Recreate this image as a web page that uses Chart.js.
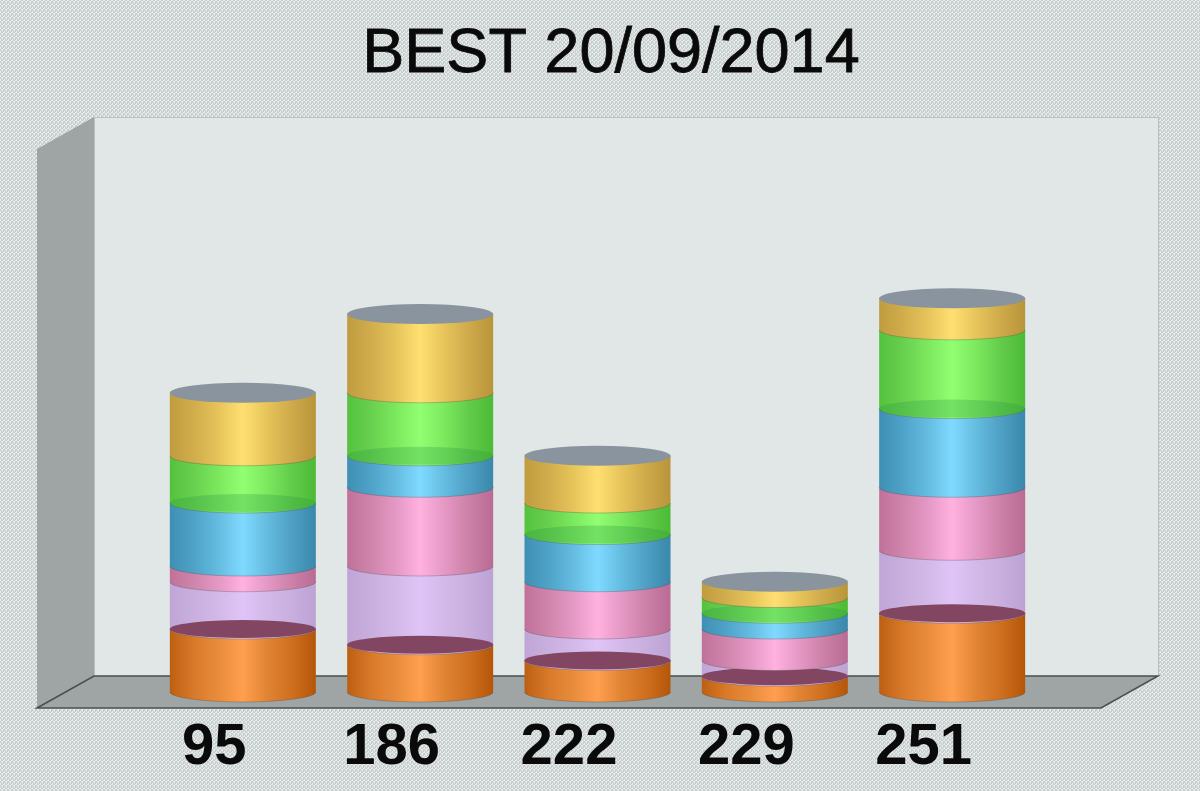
<!DOCTYPE html>
<html>
<head>
<meta charset="utf-8">
<title>BEST 20/09/2014</title>
<script src="https://cdn.jsdelivr.net/npm/chart.js@4"></script>
<style>
  html, body { margin: 0; padding: 0; background: #d6dbdb; }
  canvas { display: block; }
</style>
</head>
<body>
<canvas id="bestChart" width="1200" height="791"></canvas>
<script>
// --- data, one list per stack layer, bottom to top ---
const categories = ["95", "186", "222", "229", "251"];
const orange = [4, 3, 2, 1, 5];
const lavender = [3, 5, 2, 1, 4];
const pink = [1, 5, 3, 2, 4];
const blue = [4, 2, 3, 1, 5];
const green = [3, 4, 2, 1, 5];
const yellow = [4, 5, 3, 1, 2];

// blank slots at both ends so the ticks land where the original has them
const labels = ["", ...categories, ""];
const pad = values => [null, ...values, null];

// the box behind the bars
const DEPTH_X = 57;
const DEPTH_Y = 32;
const RY = 10;
const TITLE_SIZE = 63;

function layer(label, data, color, stops, through) {
  return { label, data: pad(data), backgroundColor: color, stops, through, stack: "s", barThickness: 146 };
}

const datasets = [
  layer("orange", orange, "#ff9f4f", ["#bd5f12", "#d97a2a", "#e88c3c", "#ff9f4f", "#e08434", "#cf6f20", "#b45608"]),
  layer("lavender", lavender, "#dfc3f5", ["#bfa6d6", "#c8afde", "#d2b9e8", "#e0c4f8", "#d2b9e8", "#c8afde", "#bda2d4"], "#834662"),
  layer("pink", pink, "#ffb0e0", ["#c0719a", "#d085ac", "#e498c4", "#ffb1e0", "#e498c4", "#cc81a8", "#b96b94"]),
  layer("blue", blue, "#80d8ff", ["#3f8fb4", "#4fa3c8", "#64bce0", "#80d9ff", "#64bce0", "#4ea0c4", "#3a88ac"]),
  layer("green", green, "#90ff70", ["#54c23e", "#68d04e", "#7ce85e", "#92ff72", "#7ce85e", "#62cc4a", "#4cba36"], "rgba(40,150,70,0.28)"),
  layer("yellow", yellow, "#ffdf70", ["#bf9c3f", "#d1ad4c", "#e6c45a", "#ffdf72", "#e6c45a", "#ceaa4a", "#b8953a"])
];

// the mottled page background, a fixed little weave repeated
function weave(ctx) {
  const rows = ["abba", "baab", "bcab", "abcb"];
  const colors = { a: "#e9ecec", b: "#c6cdcd", c: "#d8dddd" };
  const tile = document.createElement("canvas");
  tile.width = 4;
  tile.height = 4;
  const t = tile.getContext("2d");
  rows.forEach((row, y) => [...row].forEach((c, x) => {
    t.fillStyle = colors[c];
    t.fillRect(x, y, 1, 1);
  }));
  return ctx.createPattern(tile, "repeat");
}

const box3d = {
  id: "box3d",
  beforeDraw(chart) {
    const { ctx, width, height, chartArea: a } = chart;
    ctx.save();
    ctx.fillStyle = weave(ctx);
    ctx.fillRect(0, 0, width, height);

    // back wall
    ctx.fillStyle = "#e1e6e6";
    ctx.fillRect(a.left + DEPTH_X, a.top - DEPTH_Y, a.right - a.left, a.bottom - a.top);
    ctx.strokeStyle = "#b9bfbf";
    ctx.lineWidth = 1;
    ctx.strokeRect(a.left + DEPTH_X + 0.5, a.top - DEPTH_Y + 0.5, a.right - a.left, a.bottom - a.top);

    // side wall
    ctx.fillStyle = "#9fa4a4";
    ctx.beginPath();
    ctx.moveTo(a.left, a.top);
    ctx.lineTo(a.left + DEPTH_X, a.top - DEPTH_Y);
    ctx.lineTo(a.left + DEPTH_X, a.bottom - DEPTH_Y);
    ctx.lineTo(a.left, a.bottom);
    ctx.closePath();
    ctx.fill();

    // floor
    ctx.beginPath();
    ctx.moveTo(a.left, a.bottom);
    ctx.lineTo(a.left + DEPTH_X, a.bottom - DEPTH_Y);
    ctx.lineTo(a.right + DEPTH_X, a.bottom - DEPTH_Y);
    ctx.lineTo(a.right, a.bottom);
    ctx.closePath();
    ctx.fill();
    ctx.strokeStyle = "#4a4e4e";
    ctx.lineWidth = 1.5;
    ctx.stroke();
    ctx.restore();
  },
  // paint the layers bottom up as slices of a cylinder, from the library's own bar elements
  beforeDatasetsDraw(chart) {
    chart.data.datasets.forEach((ds, index) => drawSlices(chart, ds, index));
    return false;
  },
  // the original title is a touch heavier than the installed regular face
  afterDraw(chart) {
    const { ctx, titleBlock: t } = chart;
    ctx.save();
    ctx.font = TITLE_SIZE + "px 'Liberation Sans'";
    ctx.textAlign = "center";
    ctx.textBaseline = "middle";
    ctx.strokeStyle = "#0a0a0a";
    ctx.lineWidth = 0.8;
    ctx.strokeText(t.options.text, (t.left + t.right) / 2, t.top + t.options.padding.top + TITLE_SIZE * 1.2 / 2);
    ctx.restore();
  }
};

function drawSlices(chart, ds, index) {
  const { ctx } = chart;
  const top = index === chart.data.datasets.length - 1;
  chart.getDatasetMeta(index).data.forEach((bar, i) => {
    if (ds.data[i] == null) return;
    const rx = bar.width / 2;
    const cx = bar.x + DEPTH_X / 2;
    const yTop = bar.y - DEPTH_Y / 2;
    const yBase = bar.base - DEPTH_Y / 2;

    const g = ctx.createLinearGradient(cx - rx, 0, cx + rx, 0);
    ds.stops.forEach((c, k) => g.addColorStop(k / (ds.stops.length - 1), c));

    ctx.save();
    ctx.fillStyle = g;
    ctx.beginPath();
    ctx.moveTo(cx - rx, yTop);
    ctx.lineTo(cx + rx, yTop);
    ctx.lineTo(cx + rx, yBase);
    ctx.ellipse(cx, yBase, rx, RY, 0, 0, Math.PI);
    ctx.closePath();
    ctx.fill();

    // what shows through the see-through layers
    if (ds.through) {
      ctx.fillStyle = ds.through;
      ctx.beginPath();
      ctx.ellipse(cx, yBase, rx, RY - 1, 0, 0, 2 * Math.PI);
      ctx.fill();
    }

    // seam along the front of the slice
    ctx.strokeStyle = "rgba(70,70,70,0.3)";
    ctx.lineWidth = 1;
    ctx.beginPath();
    ctx.ellipse(cx, yBase, rx, RY, 0, 0, Math.PI);
    ctx.stroke();

    if (top) {
      ctx.fillStyle = "#8a949e";
      ctx.beginPath();
      ctx.ellipse(cx, yTop, rx, RY, 0, 0, 2 * Math.PI);
      ctx.fill();
    }
    ctx.restore();
  });
}

new Chart(document.getElementById("bestChart"), {
  type: "bar",
  data: { labels, datasets },
  options: {
    responsive: false,
    animation: false,
    layout: { padding: { left: 37, right: 15, top: 0, bottom: 0 } },
    plugins: {
      legend: { display: false },
      tooltip: { enabled: false },
      title: {
        display: true,
        text: "BEST 20/09/2014",
        color: "#0a0a0a",
        font: { family: "'Liberation Sans'", size: TITLE_SIZE, weight: "normal", lineHeight: 1.2 },
        padding: { top: 17, bottom: 56.4 }
      }
    },
    scales: {
      x: {
        stacked: true,
        offset: false,
        grid: { display: false },
        border: { display: false },
        ticks: {
          color: "#0a0a0a",
          autoSkip: false,
          maxRotation: 0,
          padding: -3,
          font: { family: "'Liberation Sans'", size: 58, weight: "bold" }
        },
        afterFit(scale) { scale.height = 83; }
      },
      y: {
        stacked: true,
        position: "right",
        min: 0,
        max: 35.5,
        grid: { display: false },
        border: { display: false },
        ticks: { display: false },
        afterFit(scale) { scale.width = 84; }
      }
    }
  },
  plugins: [box3d]
});
</script>
</body>
</html>
